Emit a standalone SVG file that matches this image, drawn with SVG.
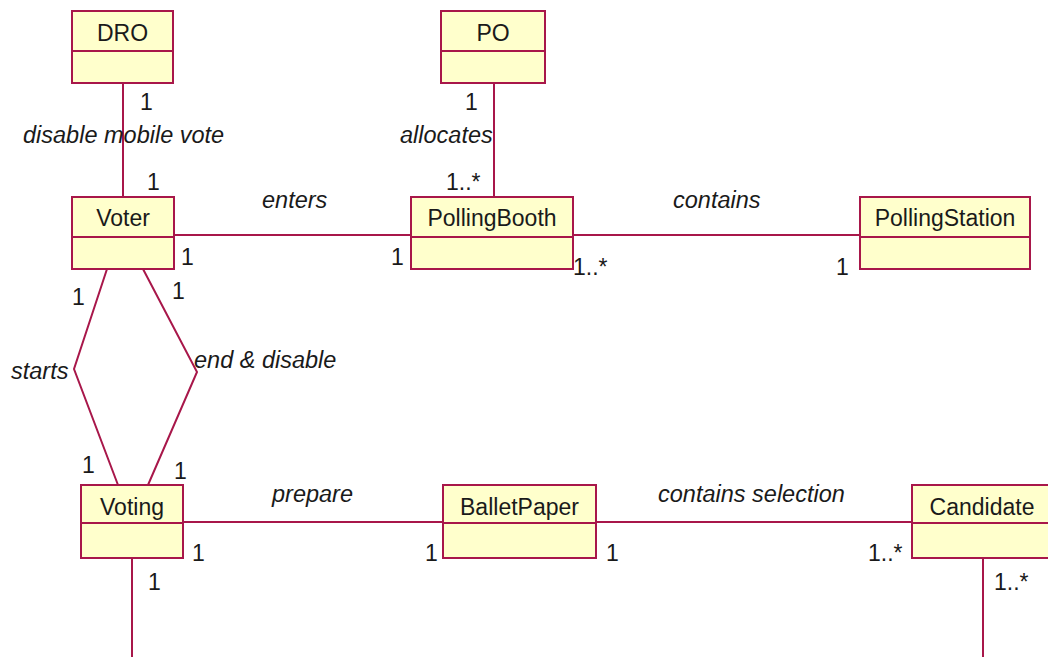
<svg xmlns="http://www.w3.org/2000/svg" width="1048" height="657" viewBox="0 0 1048 657">
  <style>
    .box { fill: #FFFFCC; stroke: #A8174A; stroke-width: 2; }
    .div { stroke: #A8174A; stroke-width: 2; }
    .name { font-family: "Liberation Sans", Arial, sans-serif; font-size: 23px; fill: #1a1a1a; text-anchor: middle; }
    .edge { fill: none; stroke: #A8174A; stroke-width: 2; }
    .lbl { font-family: "Liberation Sans", Arial, sans-serif; font-size: 23.5px; font-style: italic; fill: #1a1a1a; }
    .mul { font-family: "Liberation Sans", Arial, sans-serif; font-size: 23px; fill: #1a1a1a; }
  </style>

  <!-- associations -->
  <g id="connectors">
    <line class="edge" x1="123" y1="83" x2="123" y2="197"/>
    <line class="edge" x1="494" y1="83" x2="494" y2="197"/>
    <line class="edge" x1="174" y1="235" x2="411" y2="235"/>
    <line class="edge" x1="573" y1="235" x2="860" y2="235"/>
    <polyline class="edge" points="107,269 74,369 118,485"/>
    <polyline class="edge" points="143,269 197,372 148,485"/>
    <line class="edge" x1="183" y1="522" x2="443" y2="522"/>
    <line class="edge" x1="596" y1="522" x2="912" y2="522"/>
    <line class="edge" x1="132" y1="558" x2="132" y2="657"/>
    <line class="edge" x1="983" y1="558" x2="983" y2="657"/>

    <!-- association names -->
    <text class="lbl" x="23" y="143">disable mobile vote</text>
    <text class="lbl" x="400" y="143">allocates</text>
    <text class="lbl" x="262" y="208">enters</text>
    <text class="lbl" x="673" y="208">contains</text>
    <text class="lbl" x="11" y="379">starts</text>
    <text class="lbl" x="194" y="368">end &amp; disable</text>
    <text class="lbl" x="272" y="502">prepare</text>
    <text class="lbl" x="658" y="502">contains selection</text>

    <!-- multiplicities -->
    <text class="mul" x="140" y="110">1</text>
    <text class="mul" x="147" y="190">1</text>
    <text class="mul" x="465" y="110">1</text>
    <text class="mul" x="446" y="190">1..*</text>
    <text class="mul" x="181" y="265">1</text>
    <text class="mul" x="391" y="265">1</text>
    <text class="mul" x="573" y="275">1..*</text>
    <text class="mul" x="836" y="275">1</text>
    <text class="mul" x="72" y="305">1</text>
    <text class="mul" x="172" y="299">1</text>
    <text class="mul" x="82" y="473">1</text>
    <text class="mul" x="174" y="479">1</text>
    <text class="mul" x="192" y="561">1</text>
    <text class="mul" x="425" y="561">1</text>
    <text class="mul" x="606" y="561">1</text>
    <text class="mul" x="868" y="561">1..*</text>
    <text class="mul" x="148" y="590">1</text>
    <text class="mul" x="994" y="590">1..*</text>
  </g>

  <!-- classes -->
  <g id="DRO">
    <rect class="box" x="72" y="11" width="101" height="72"/>
    <line class="div" x1="72" y1="51" x2="173" y2="51"/>
    <text class="name" x="122.5" y="41">DRO</text>
  </g>
  <g id="PO">
    <rect class="box" x="441" y="11" width="104" height="72"/>
    <line class="div" x1="441" y1="51" x2="545" y2="51"/>
    <text class="name" x="493" y="41">PO</text>
  </g>
  <g id="Voter">
    <rect class="box" x="72" y="197" width="102" height="72"/>
    <line class="div" x1="72" y1="237" x2="174" y2="237"/>
    <text class="name" x="123" y="226">Voter</text>
  </g>
  <g id="PollingBooth">
    <rect class="box" x="411" y="197" width="162" height="72"/>
    <line class="div" x1="411" y1="237" x2="573" y2="237"/>
    <text class="name" x="492" y="226">PollingBooth</text>
  </g>
  <g id="PollingStation">
    <rect class="box" x="860" y="197" width="170" height="72"/>
    <line class="div" x1="860" y1="237" x2="1030" y2="237"/>
    <text class="name" x="945" y="226">PollingStation</text>
  </g>
  <g id="Voting">
    <rect class="box" x="81" y="485" width="102" height="73"/>
    <line class="div" x1="81" y1="523" x2="183" y2="523"/>
    <text class="name" x="132" y="515">Voting</text>
  </g>
  <g id="BalletPaper">
    <rect class="box" x="443" y="485" width="153" height="73"/>
    <line class="div" x1="443" y1="523" x2="596" y2="523"/>
    <text class="name" x="519.5" y="515">BalletPaper</text>
  </g>
  <g id="Candidate">
    <rect class="box" x="912" y="485" width="140" height="73"/>
    <line class="div" x1="912" y1="523" x2="1052" y2="523"/>
    <text class="name" x="982" y="515">Candidate</text>
  </g>
</svg>
